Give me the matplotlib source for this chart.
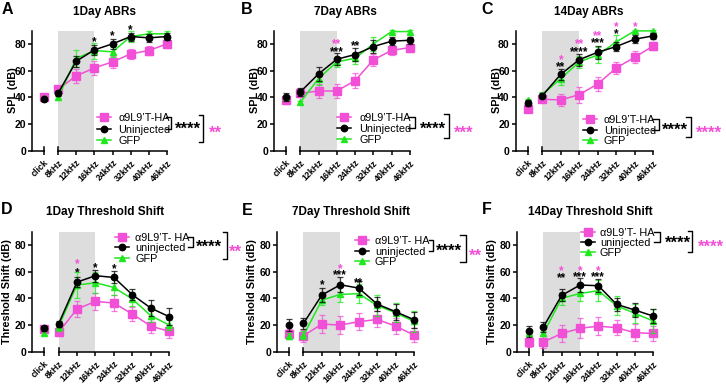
import matplotlib.pyplot as plt
from matplotlib.lines import Line2D
from matplotlib.transforms import blended_transform_factory, ScaledTranslation

plt.rcParams['font.family'] = ['Liberation Sans', 'DejaVu Sans']

W, H = 726, 385
PINK = '#f24fd7'
GREEN = '#1fe81f'

freq_labels = ['click', '8kHz', '12kHz', '16kHz', '24kHz', '32kHz', '40kHz', '46kHz']
x_pos = [0.22, 1, 2, 3, 4, 5, 6, 7]

abr_names = ['\u03b19L9\u2019T-HA', 'Uninjected', 'GFP']
ts_names = ['\u03b19L9\u2019T- HA', 'uninjected', 'GFP']

# 1 day ABRs
abr1_ha = [40, 46, 56, 62, 66.5, 72.5, 75, 80]
abr1_ha_err = [2, 2, 5, 5, 4.5, 4, 3.5, 3]
abr1_un = [38.5, 43, 67, 75.5, 80, 85.5, 84.5, 85.5]
abr1_un_err = [1, 2, 4, 3.5, 4, 3, 3, 2.5]
abr1_gfp = [39.5, 40, 69, 75, 74, 85.5, 87.5, 87.5]
abr1_gfp_err = [1, 2, 6.5, 6, 4, 4, 2, 2.5]

# 7 day ABRs
abr7_ha = [38, 43, 44.7, 44.7, 52.5, 68, 75.2, 77.2]
abr7_ha_err = [3, 3, 5, 5, 5.5, 4.5, 3.5, 3]
abr7_un = [40, 44, 57.5, 68.5, 72, 78, 82, 82.7]
abr7_un_err = [3, 3, 5, 4.5, 5, 5, 3, 2.5]
abr7_gfp = [40, 36.2, 54, 66.5, 69.2, 80, 89.2, 89.2]
abr7_gfp_err = [1, 1, 5, 4, 4, 5.5, 1, 1]

# 14 day ABRs
abr14_ha = [31.2, 38.5, 38, 42, 50, 62, 70, 78.5]
abr14_ha_err = [2, 2, 4.5, 6, 5, 4.5, 4.5, 3]
abr14_un = [35.7, 41.2, 57.2, 68.2, 73.7, 78, 83.5, 86]
abr14_un_err = [2, 2, 4, 4.5, 5, 3.5, 3, 2]
abr14_gfp = [38, 42, 54, 66.5, 71.7, 81.5, 89.7, 89.7]
abr14_gfp_err = [1, 2, 5, 4.5, 6, 5, 1, 1]

# 1 day threshold shift
ts1_ha = [16.7, 14.5, 32, 37.7, 36.5, 28.2, 19.2, 15.2]
ts1_ha_err = [2, 3, 6, 6.5, 6, 5, 5.5, 5]
ts1_un = [17.5, 20.7, 52.2, 57, 55.7, 42.7, 32.7, 26.2]
ts1_un_err = [2, 2, 3.5, 4.5, 4.5, 4, 6, 6.5]
ts1_gfp = [14.2, 18.7, 50, 51.7, 48.2, 39.5, 27, 20]
ts1_gfp_err = [2, 3, 10, 8, 6, 5, 4.5, 4]

# 7 day threshold shift
ts7_ha = [13.2, 12, 20.7, 20, 22.5, 24.2, 19.2, 12.5]
ts7_ha_err = [4, 4.5, 7, 6.5, 6.5, 6, 6, 5.5]
ts7_un = [20, 21.2, 42.5, 50.2, 47.7, 35.7, 30, 24]
ts7_un_err = [4.5, 4, 5.5, 5.5, 5, 5, 6, 6]
ts7_gfp = [11.7, 12.2, 38.7, 43, 43.5, 34.7, 29.2, 22.7]
ts7_gfp_err = [2, 3, 4, 6, 7, 8, 7, 8]

# 14 day threshold shift
ts14_ha = [7.5, 7.2, 13.7, 17.5, 19.2, 18, 14.2, 13.7]
ts14_ha_err = [4, 4.5, 6.5, 7.5, 6.5, 5.5, 6.5, 5.5]
ts14_un = [15.2, 18.5, 42.2, 50, 49.5, 35.5, 31.2, 26.7]
ts14_un_err = [4, 4, 4.5, 5, 5, 5, 5.5, 5.5]
ts14_gfp = [13.7, 13.7, 40, 43.7, 45.7, 34.5, 28.7, 23]
ts14_gfp_err = [2, 2, 5, 6, 8, 7, 7, 9]

# significance marks: (frequency index, stars, colour, y)
abr1_sig = [(3, '*', 'k', 84.5), (4, '*', 'k', 88.5), (5, '*', 'k', 93)]
abr7_sig = [(3, '**', PINK, 83), (3, '***', 'k', 76.7), (4, '**', 'k', 81)]
abr14_sig = [(2, '*', PINK, 70.5), (2, '**', 'k', 65.5), (3, '**', PINK, 83),
             (3, '****', 'k', 76.7), (4, '**', PINK, 88.7), (4, '***', 'k', 83.5),
             (5, '*', PINK, 95.5), (5, '*', 'k', 90.5), (6, '*', PINK, 95.5)]
ts1_sig = [(2, '*', PINK, 68.2), (2, '*', 'k', 62), (3, '*', 'k', 65.7), (4, '*', 'k', 64.5)]
ts7_sig = [(2, '*', 'k', 52.5), (3, '*', PINK, 65), (3, '***', 'k', 60), (4, '**', 'k', 54.5)]
ts14_sig = [(2, '*', PINK, 63.2), (2, '**', 'k', 58.2), (3, '*', PINK, 63.2),
            (3, '***', 'k', 58.7), (4, '*', PINK, 63.2), (4, '***', 'k', 58.7)]

panels = [
    dict(letter='A', lpos=(7.5, 10), title='1Day ABRs', tpos=(105, 12), ylabel='SPL (dB)', ylfs=7.8, ylgap=19,
         rect=(32.3, 30.5, 167, 150.7), series=(abr1_ha, abr1_ha_err, abr1_un, abr1_un_err, abr1_gfp, abr1_gfp_err),
         sig=abr1_sig, names=abr_names,
         leg=dict(mx=104, tx=118.3, rows=(117.3, 128.8, 139.7), b1=(166, 171), s1=(188, 124.2, '****'),
                  b2=(199, 203.3, 115, 141.7), s2=(215, 127.7, '**'))),
    dict(letter='B', lpos=(247, 10), title='7Day ABRs', tpos=(345.5, 12), ylabel='SPL (dB)', ylfs=7.8, ylgap=19,
         rect=(274.3, 30.5, 410, 150.7), series=(abr7_ha, abr7_ha_err, abr7_un, abr7_un_err, abr7_gfp, abr7_gfp_err),
         sig=abr7_sig, names=abr_names,
         leg=dict(mx=344.3, tx=359.3, rows=(117.3, 128, 139), b1=(408, 414.5), s1=(433.3, 124, '****'),
                  b2=(444, 449, 114, 137.7), s2=(464, 127.7, '***'))),
    dict(letter='C', lpos=(487, 10), title='14Day ABRs', tpos=(589, 12), ylabel='SPL (dB)', ylfs=7.8, ylgap=19,
         rect=(516, 30.5, 653.3, 150.7), series=(abr14_ha, abr14_ha_err, abr14_un, abr14_un_err, abr14_gfp, abr14_gfp_err),
         sig=abr14_sig, names=abr_names,
         leg=dict(mx=590, tx=604, rows=(118.7, 129.7, 140), b1=(652, 659), s1=(675, 125.3, '****'),
                  b2=(686, 690.7, 116.7, 136.7), s2=(709, 127.7, '****'))),
    dict(letter='D', lpos=(7, 210), title='1Day Threshold Shift', tpos=(105, 212.3), ylabel='Threshold Shift (dB)',
         ylfs=7.8, ylgap=25,
         rect=(32.3, 231.7, 169.3, 351.7), series=(ts1_ha, ts1_ha_err, ts1_un, ts1_un_err, ts1_gfp, ts1_gfp_err),
         sig=ts1_sig, names=ts_names,
         leg=dict(mx=121.7, tx=135, rows=(236.7, 247.3, 258.3), b1=(188, 193.3), s1=(209.3, 242.5, '****'),
                  b2=(222.7, 226.7, 232.3, 259), s2=(235, 247.3, '**'))),
    dict(letter='E', lpos=(247.5, 210.5), title='7Day Threshold Shift', tpos=(351.3, 212.3), ylabel='Threshold Shift (dB)',
         ylfs=7.8, ylgap=25,
         rect=(277.3, 231.7, 414, 351.7), series=(ts7_ha, ts7_ha_err, ts7_un, ts7_un_err, ts7_gfp, ts7_gfp_err),
         sig=ts7_sig, names=ts_names,
         leg=dict(mx=361.7, tx=375, rows=(240, 250.7, 261), b1=(429, 433.3), s1=(449, 246, '****'),
                  b2=(460, 466, 235, 261.7), s2=(475, 250.7, '**'))),
    dict(letter='F', lpos=(487, 210), title='14Day Threshold Shift', tpos=(590, 212.3), ylabel='Threshold Shift (dB)',
         ylfs=7.8, ylgap=25,
         rect=(517.3, 231.7, 653.3, 351.7), series=(ts14_ha, ts14_ha_err, ts14_un, ts14_un_err, ts14_gfp, ts14_gfp_err),
         sig=ts14_sig, names=ts_names,
         leg=dict(mx=588.3, tx=600, rows=(232.3, 242.3, 252), b1=(654, 660), s1=(677.7, 238.3, '****'),
                  b2=(688.3, 692.3, 230.7, 252.3), s2=(711, 241.7, '****'))),
]

styles = [(PINK, 's', 5.2), ('k', 'o', 4.6), (GREEN, '^', 4.6)]
draw_order = [2, 0, 1]


def fx(x):
    return x / W


def fy(y):
    return 1 - y / H


def stars_px(x, y, s, color, fs):
    # y is the visual centre of the asterisks, in pixels
    fig.text(fx(x), fy(y + 0.58 * fs * 100 / 72), s, ha='center', va='baseline',
             color=color, fontsize=fs, fontweight='bold')


fig = plt.figure(figsize=(W / 100, H / 100), dpi=100)
shift = ScaledTranslation(2.5 / 100, 0, fig.dpi_scale_trans)

for p in panels:
    l, t, r, b = p['rect']
    ax = fig.add_axes([fx(l), fy(b), (r - l) / W, (b - t) / H])
    ax.set_xlim(-0.42, 7)
    ax.set_ylim(0, 90)
    ax.axvspan(x_pos[1], x_pos[3], color='#dddddd', lw=0, zorder=0)

    vals = p['series']
    for i in draw_order:
        color, marker, ms = styles[i]
        y, err = vals[2 * i], vals[2 * i + 1]
        for xs, ys, es, ls in [(x_pos[1:], y[1:], err[1:], '-'), (x_pos[:1], y[:1], err[:1], 'none')]:
            cont = ax.errorbar(xs, ys, yerr=es, color=color, ecolor=color, ls=ls, lw=1.1,
                               marker=marker, ms=ms, elinewidth=0.9, capsize=2.5, capthick=0.9,
                               zorder=3.5 if i == 1 else 3 + i * 0.1)
            cont[0].set_clip_on(False)
            for a in cont[1] + cont[2]:
                a.set_clip_on(False)
                a.set_alpha(0.75)

    for idx, s, c, yv in p['sig']:
        ax.annotate(s, (x_pos[idx], yv), xytext=(0, -0.58 * 8.5), textcoords='offset points',
                    ha='center', va='baseline', color=c, fontsize=8.5, fontweight='bold',
                    annotation_clip=False)

    for side in ['top', 'right', 'bottom']:
        ax.spines[side].set_visible(False)
    ax.spines['left'].set_linewidth(1.1)

    trans = blended_transform_factory(ax.transData, ax.transAxes)
    ax.plot([-0.42, x_pos[0]], [0, 0], transform=trans, color='k', lw=1.1, clip_on=False)
    ax.plot([x_pos[1], x_pos[-1]], [0, 0], transform=trans, color='k', lw=1.1, clip_on=False)
    for xb in x_pos[:2]:
        ax.plot([xb, xb], [0, 3], color='k', lw=1.1, clip_on=False)

    ax.set_xticks(x_pos)
    ax.set_xticklabels(freq_labels, rotation=45, ha='right', rotation_mode='anchor',
                       fontsize=6.4, fontweight='bold')
    for lab in ax.get_xticklabels():
        lab.set_transform(lab.get_transform() + shift)
    ax.set_yticks([0, 20, 40, 60, 80])
    ax.set_yticklabels(['0', '20', '40', '60', '80'], fontsize=7.5, fontweight='bold')
    ax.tick_params(axis='x', length=3, width=1.1, pad=2.5)
    ax.tick_params(axis='y', length=3, width=1.1, pad=1.5)

    ax.set_ylabel(p['ylabel'], fontsize=p['ylfs'], fontweight='bold', va='center')
    ax.yaxis.set_label_coords(-p['ylgap'] / (r - l), 0.5)

    fig.text(fx(p['tpos'][0]), fy(p['tpos'][1]), p['title'], ha='center', va='center',
             fontsize=8.5, fontweight='bold')
    fig.text(fx(p['lpos'][0]), fy(p['lpos'][1]), p['letter'], ha='center', va='center',
             fontsize=11.5, fontweight='bold')

    # legend with significance brackets
    lg = p['leg']
    for i, (name, yr) in enumerate(zip(p['names'], lg['rows'])):
        color, marker, ms = styles[i]
        fig.add_artist(Line2D([fx(lg['mx'] - 7), fx(lg['mx'] + 7)], [fy(yr), fy(yr)], color=color, lw=1.1))
        fig.add_artist(Line2D([fx(lg['mx'])], [fy(yr)], color=color, marker=marker, ms=ms, lw=0))
        fig.text(fx(lg['tx']), fy(yr), name, ha='left', va='center_baseline', fontsize=7.8)
    y0, y1 = lg['rows'][0], lg['rows'][1]
    bx0, bx1 = lg['b1']
    fig.add_artist(Line2D([fx(bx0), fx(bx1), fx(bx1), fx(bx0)], [fy(y0), fy(y0), fy(y1), fy(y1)],
                          color='k', lw=1.0))
    bx0, bx1, by0, by1 = lg['b2']
    fig.add_artist(Line2D([fx(bx0), fx(bx1), fx(bx1), fx(bx0)], [fy(by0), fy(by0), fy(by1), fy(by1)],
                          color='k', lw=1.0))
    stars_px(lg['s1'][0], lg['s1'][1], lg['s1'][2], 'k', 12)
    stars_px(lg['s2'][0], lg['s2'][1], lg['s2'][2], PINK, 12)

fig.savefig('out.png', dpi=100)
